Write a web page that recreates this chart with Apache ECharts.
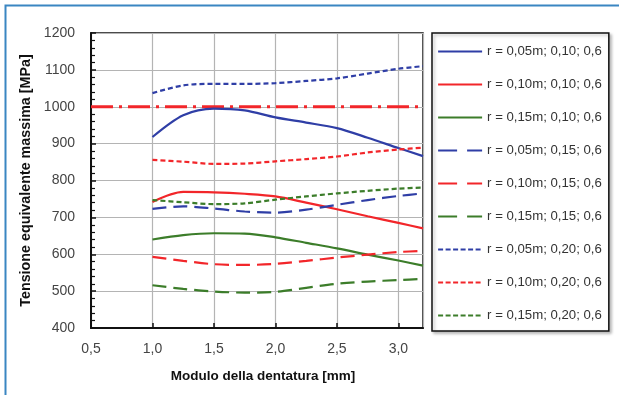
<!DOCTYPE html>
<html>
<head>
<meta charset="utf-8">
<script src="https://cdn.jsdelivr.net/npm/echarts@6/dist/echarts.min.js"></script>
<style>
html,body{margin:0;padding:0;background:#fff;}
#chart{width:619px;height:395px;}
</style>
</head>
<body>
<div id="chart"></div>
<script>
// ---- data ----
var moduli = [1.0, 1.25, 1.5, 1.75, 2.0, 2.25, 2.5, 2.75, 3.0, 3.2];
var seriesNames = [
  'r = 0,05m; 0,10; 0,6',
  'r = 0,10m; 0,10; 0,6',
  'r = 0,15m; 0,10; 0,6',
  'r = 0,05m; 0,15; 0,6',
  'r = 0,10m; 0,15; 0,6',
  'r = 0,15m; 0,15; 0,6',
  'r = 0,05m; 0,20; 0,6',
  'r = 0,10m; 0,20; 0,6',
  'r = 0,15m; 0,20; 0,6'
];
var r005_010 = [918, 977, 995, 990, 971, 957, 942, 916, 888, 866];
var r010_010 = [742, 769, 768, 764, 757, 740, 722, 703, 685, 670];
var r015_010 = [640, 652, 657, 656, 646, 631, 616, 599, 583, 569];
var r005_015 = [723, 730, 724, 716, 713, 721, 734, 747, 758, 765];
var r010_015 = [593, 582, 573, 571, 574, 582, 591, 599, 606, 609];
var r015_015 = [516, 506, 499, 496, 498, 509, 520, 526, 530, 533];
var r005_020 = [1037, 1058, 1062, 1062, 1064, 1070, 1077, 1090, 1103, 1110];
var r010_020 = [856, 851, 845, 846, 852, 858, 865, 876, 884, 889];
var r015_020 = [747, 741, 736, 738, 748, 757, 765, 772, 778, 781];
var limitX = [0.5, 3.2];
var limitValue = 1000;
var xTicks = [0.5, 1.0, 1.5, 2.0, 2.5, 3.0];
var yTicks = [400, 500, 600, 700, 800, 900, 1000, 1100, 1200];

// ---- styles ----
var BLUE = '#2f3ea6', RED = '#f2262a', GREEN = '#3c7d2a';
var allValues = [r005_010, r010_010, r015_010, r005_015, r010_015, r015_015, r005_020, r010_020, r015_020];
var colors = [BLUE, RED, GREEN, BLUE, RED, GREEN, BLUE, RED, GREEN];
var dashes = ['solid', 'solid', 'solid', [14, 7], [14, 7], [14, 7], [5, 3], [5, 3], [5, 3]];
var legendDashes = ['solid', 'solid', 'solid', [19, 10], [19, 10], [19, 10], [5, 2.5], [5, 2.5], [5, 2.5]];

function pairs(xs, ys) { return xs.map(function (x, i) { return [x, ys[i]]; }); }

var series = allValues.map(function (vals, i) {
  return {
    name: seriesNames[i],
    type: 'line',
    data: pairs(moduli, vals),
    smooth: 0.3,
    symbol: 'none',
    color: colors[i],
    lineStyle: { color: colors[i], width: 2.2, type: dashes[i] }
  };
});
series.unshift({
  name: 'limite',
  type: 'line',
  data: limitX.map(function (x) { return [x, limitValue]; }),
  symbol: 'none',
  silent: true,
  color: RED,
  lineStyle: { color: RED, width: 3, type: [22, 6, 3, 6] }
});

function fmt(v) { return v.toFixed(1).replace('.', ','); }

var legendData = seriesNames.map(function (n, i) {
  return { name: n, itemStyle: { opacity: 0 }, lineStyle: { type: legendDashes[i], width: 2.2 } };
});

var chart = echarts.init(document.getElementById('chart'), null, { renderer: 'canvas' });
chart.setOption({
  animation: false,
  backgroundColor: '#ffffff',
  textStyle: { fontFamily: 'Arial, "Liberation Sans", sans-serif' },
  graphic: [{
    type: 'rect',
    shape: { x: 5.5, y: 5.5, width: 800, height: 600 },
    style: { fill: 'none', stroke: '#3a86c2', lineWidth: 2 },
    silent: true,
    z: -1
  }],
  grid: {
    left: 91, top: 33, right: 196, bottom: 67,
    show: true, borderColor: '#111', borderWidth: 1.5, backgroundColor: 'transparent'
  },
  legend: {
    data: legendData,
    orient: 'vertical',
    left: 432, top: 33,
    padding: [12, 7, 9, 5],
    itemWidth: 44, itemHeight: 14, itemGap: 20,
    borderColor: '#111', borderWidth: 1.5,
    backgroundColor: '#fff',
    shadowColor: 'rgba(0,0,0,0.25)', shadowBlur: 3, shadowOffsetX: 2, shadowOffsetY: 2,
    itemStyle: { opacity: 0 },
    textStyle: { fontSize: 13.2, color: '#333' }
  },
  xAxis: {
    type: 'value',
    min: 0.5, max: 3.2, interval: 0.5,
    name: 'Modulo della dentatura [mm]',
    nameLocation: 'middle', nameGap: 41,
    nameTextStyle: { fontSize: 13.5, fontWeight: 'bold', color: '#111', padding: [0, 0, 0, 12] },
    axisLine: { show: true, onZero: false, lineStyle: { color: '#111', width: 2 } },
    axisTick: { show: true, inside: true, length: 5, lineStyle: { color: '#111', width: 1.5 } },
    axisLabel: {
      fontSize: 14, color: '#444', margin: 14, showMaxLabel: false,
      formatter: function (v) { return xTicks.indexOf(+v.toFixed(2)) >= 0 ? fmt(v) : ''; }
    },
    splitLine: { show: true, lineStyle: { color: '#b4b4b4', width: 1.2 } }
  },
  yAxis: {
    type: 'value',
    min: 400, max: 1200, interval: 100,
    name: 'Tensione equivalente massima [MPa]',
    nameLocation: 'middle', nameGap: 49,
    nameTextStyle: { fontSize: 14.3, fontWeight: 'bold', color: '#111' },
    axisLine: { show: true, onZero: false, lineStyle: { color: '#111', width: 2 } },
    axisTick: { show: true, inside: true, length: 5, lineStyle: { color: '#111', width: 1.5 } },
    minorTick: { show: true, splitNumber: 5, length: 4, lineStyle: { color: '#111', width: 1.2 } },
    axisLabel: {
      fontSize: 14, color: '#444', margin: 16,
      formatter: function (v) { return yTicks.indexOf(v) >= 0 ? String(v) : ''; }
    },
    splitLine: { show: true, lineStyle: { color: '#b4b4b4', width: 1.2 } }
  },
  series: series
});
</script>
</body>
</html>
